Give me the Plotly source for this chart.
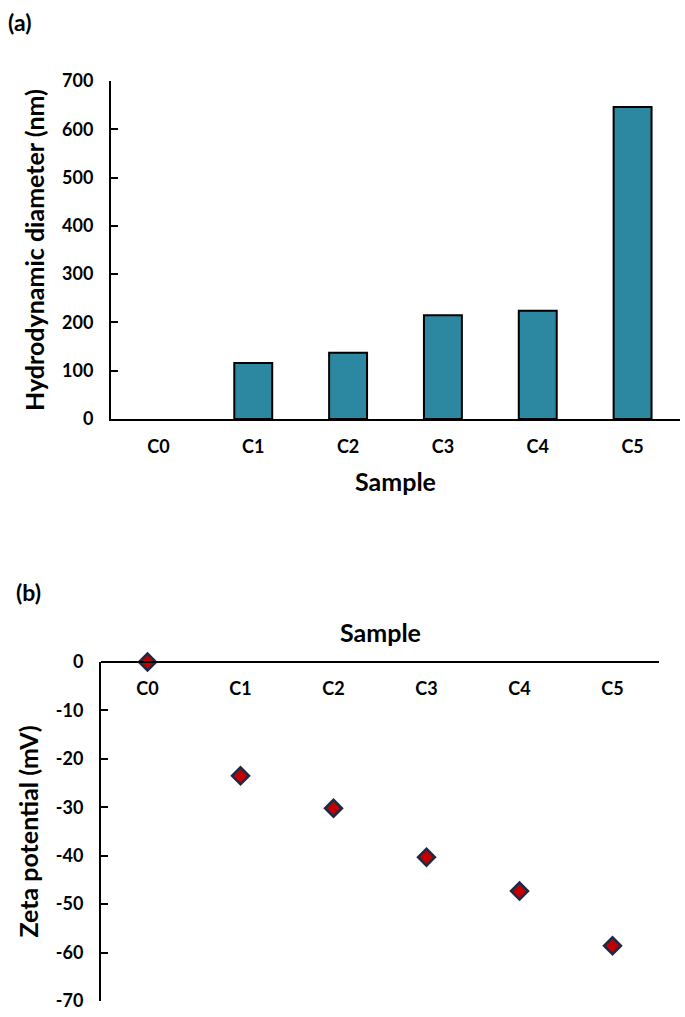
import plotly.graph_objects as go

# ---- data ----
samples = ["C0", "C1", "C2", "C3", "C4", "C5"]
hydro_diameter_nm = [0, 116, 137, 215, 224, 646]
zeta_potential_mv = [0, -23.5, -30.2, -40.3, -47.3, -58.6]
hd_ticks = [0, 100, 200, 300, 400, 500, 600, 700]
zeta_ticks = [0, -10, -20, -30, -40, -50, -60, -70]
zeta_tick_text = [str(v) for v in zeta_ticks]

W, H = 685, 1017
FONT = "Lato"


def fx(p):
    return min(1.0, max(0.0, p / W))


def fy(p):
    return min(1.0, max(0.0, 1 - p / H))


tick_font = dict(family=FONT, size=18, color="black", weight="bold")
title_font = dict(family=FONT, size=25, color="black", weight="bold")

fig = go.Figure()

fig.add_trace(go.Bar(
    x=samples, y=hydro_diameter_nm,
    width=0.4,
    marker=dict(color="#2C87A0",
                line=dict(color="black", width=[0 if v == 0 else 2 for v in hydro_diameter_nm])),
    xaxis="x", yaxis="y", showlegend=False,
))

fig.add_trace(go.Scatter(
    x=samples, y=zeta_potential_mv, mode="markers",
    marker=dict(symbol="diamond", size=13, color="#C00000",
                line=dict(color="#1E2A45", width=2.5)),
    cliponaxis=False,
    xaxis="x2", yaxis="y2", showlegend=False,
))

axis_common = dict(showgrid=False, zeroline=False, showline=True, automargin=False,
                   ticklabeloverflow="allow",
                   linecolor="black", linewidth=2, tickfont=tick_font)

fig.update_layout(
    template="none",
    width=W, height=H,
    margin=dict(l=0, r=0, t=0, b=0, pad=0, autoexpand=False),
    paper_bgcolor="white", plot_bgcolor="white",
    xaxis=dict(domain=[fx(111), fx(680)], anchor="y", ticks="",
               range=[-0.5, 5.5], type="category", ticklabelstandoff=10,
               title=dict(text="Sample", font=title_font, standoff=18),
               **axis_common),
    yaxis=dict(domain=[fy(419), fy(81)], anchor="x", range=[0, 700],
               tickvals=hd_ticks, ticks="inside", ticklen=7, tickwidth=2,
               tickcolor="black", ticklabelstandoff=12,
               title=dict(text="Hydrodynamic diameter (nm)", font=title_font, standoff=10),
               **axis_common),
    xaxis2=dict(domain=[fx(101), fx(659)], anchor="free", position=fy(662),
                side="bottom", ticks="", ticklabelstandoff=10,
                range=[-0.5, 5.5], type="category",
                **axis_common),
    yaxis2=dict(domain=[fy(1001), fy(662)], anchor="x2", range=[-70, 0],
                tickvals=zeta_ticks, ticktext=zeta_tick_text,
                ticks="inside", ticklen=7, tickwidth=2,
                tickcolor="black", ticklabelstandoff=12,
                title=dict(text="Zeta potential (mV)", font=title_font, standoff=10),
                **axis_common),
    annotations=[
        dict(text="(a)", x=fx(6), y=fy(22), xref="paper", yref="paper",
             xanchor="left", yanchor="middle", showarrow=False,
             font=dict(family=FONT, size=23, color="black", weight="bold")),
        dict(text="(b)", x=fx(14), y=fy(592), xref="paper", yref="paper",
             xanchor="left", yanchor="middle", showarrow=False,
             font=dict(family=FONT, size=23, color="black", weight="bold")),
        dict(text="Sample", x=(fx(101) + fx(659)) / 2, y=fy(632),
             xref="paper", yref="paper", xanchor="center", yanchor="middle",
             showarrow=False, font=title_font),
    ],
)

fig.write_html("out.html", config={"displayModeBar": False},
               post_script="document.body.style.margin='0px';")
